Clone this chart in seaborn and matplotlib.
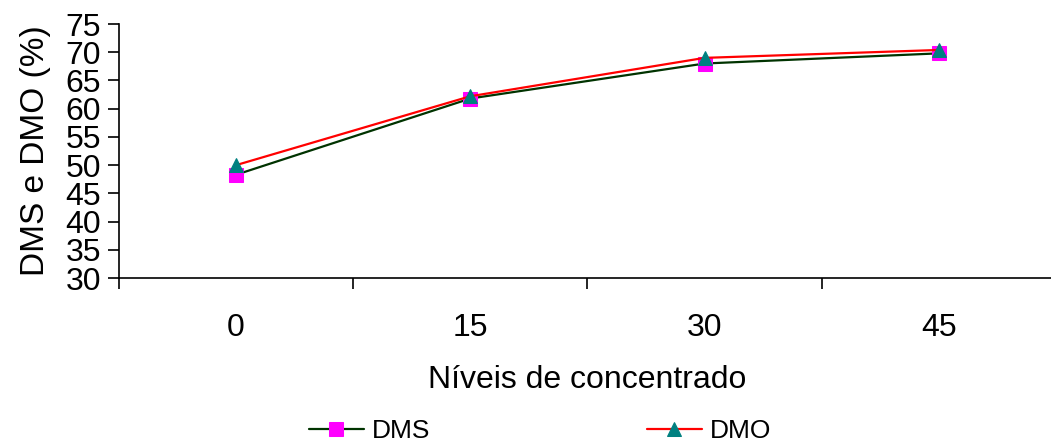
import matplotlib
matplotlib.use("Agg")
import matplotlib.pyplot as plt
import seaborn as sns
import numpy as np
import pandas as pd

sns.set_style("white")
plt.rcParams["font.family"] = ["Liberation Sans", "DejaVu Sans"]
plt.rcParams["text.color"] = "black"
plt.rcParams["axes.labelcolor"] = "black"
plt.rcParams["xtick.color"] = "black"
plt.rcParams["ytick.color"] = "black"

# Data
niveis = ["0", "15", "30", "45"]
dms = [48.3, 61.8, 68.0, 69.8]
dmo = [50.0, 62.2, 69.0, 70.4]

pos = np.arange(len(niveis))
df = pd.DataFrame({"pos": np.concatenate([pos, pos]),
                   "valor": dms + dmo,
                   "serie": ["DMS"] * len(dms) + ["DMO"] * len(dmo)})

fig = plt.figure(figsize=(10.51, 4.46), dpi=100)
W, H = 1051, 446
ax = fig.add_axes([119 / W, (H - 278) / H, (1056 - 119) / W, (278 - 24) / H])

sns.lineplot(data=df[df.serie == "DMS"], x="pos", y="valor", ax=ax,
             color="#003300", lw=1.6, marker="s", markersize=10,
             markerfacecolor="#FF00FF", markeredgecolor="#FF00FF",
             label="DMS", legend=False)
sns.lineplot(data=df[df.serie == "DMO"], x="pos", y="valor", ax=ax,
             color="#FF0000", lw=1.6, marker="^", markersize=10,
             markerfacecolor="#008080", markeredgecolor="#008080",
             label="DMO", legend=False)

ax.set_xlim(-0.5, len(niveis) - 0.5)
ax.set_ylim(30, 75)
ax.set_yticks(np.arange(30, 76, 5))

# category boundaries carry the tick marks, category centres carry the labels
ax.set_xticks(np.arange(-0.5, len(niveis) - 0.5, 1.0))
ax.set_xticklabels([])
ax.set_xticks(pos, minor=True)
ax.set_xticklabels(niveis, minor=True)
ax.tick_params(axis="x", which="major", direction="out", length=8, width=1.2,
               color="black", bottom=True)
ax.tick_params(axis="x", which="minor", length=0, pad=25, labelsize=23)
ax.tick_params(axis="y", direction="out", length=8, width=1.2, color="black",
               left=True, pad=5, labelsize=23)

for side in ["top", "right"]:
    ax.spines[side].set_visible(False)
for side in ["left", "bottom"]:
    ax.spines[side].set_color("black")
    ax.spines[side].set_linewidth(1.2)

ax.set_xlabel("Níveis de concentrado", fontsize=23, labelpad=16)
ax.set_ylabel("DMS e DMO (%)", fontsize=24, labelpad=10)

handles, labels = ax.get_legend_handles_labels()
fig.legend(handles, labels, loc="center", bbox_to_anchor=(540 / W, 1 - 431 / H),
           ncol=2, frameon=False, fontsize=19, handlelength=2.1,
           handletextpad=0.3, columnspacing=8.2, borderpad=0, borderaxespad=0)

fig.savefig("out.png", dpi=100)
